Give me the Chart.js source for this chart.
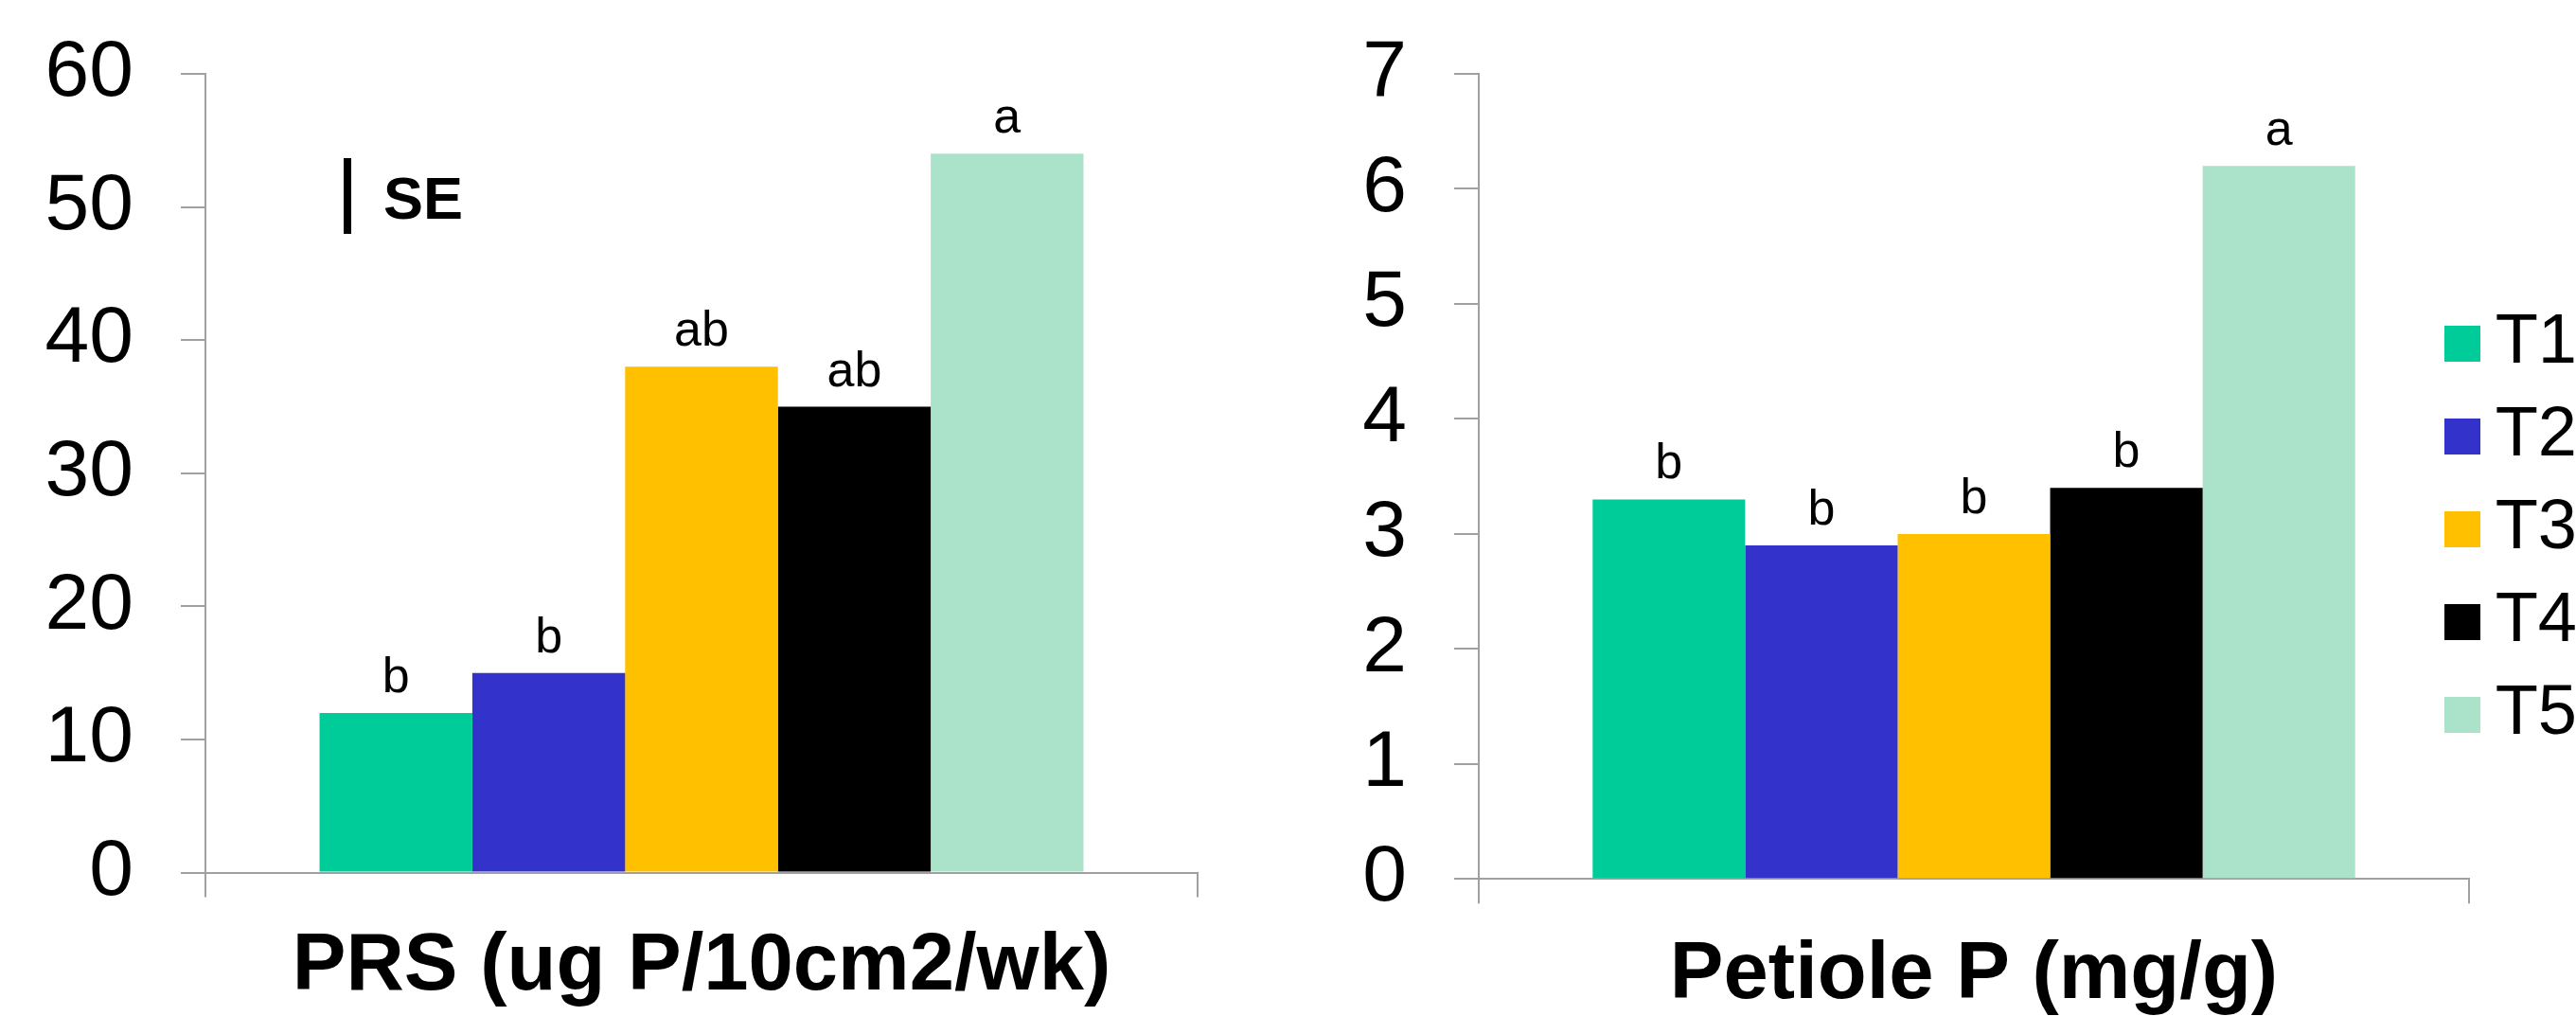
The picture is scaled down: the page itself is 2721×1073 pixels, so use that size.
<!DOCTYPE html>
<html lang="en">
<head>
  <meta charset="UTF-8">
  <title>PRS and Petiole P</title>
  <script src="https://cdn.jsdelivr.net/npm/chart.js"></script>
  <style>
    html, body {
      margin: 0;
      padding: 0;
      width: 2721px;
      height: 1073px;
      overflow: hidden;
      background: #ffffff;
    }
    canvas {
      position: absolute;
      top: 0;
    }
    #prsChart { left: 0; }
    #petioleChart { left: 1330px; }
  </style>
</head>
<body>
  <canvas id="prsChart" width="1330" height="1073"></canvas>
  <canvas id="petioleChart" width="1400" height="1073"></canvas>

  <script>
    // data
    const categories = ['T1', 'T2', 'T3', 'T4', 'T5'];
    const colors = ['#00CC99', '#3333CC', '#FFC000', '#000000', '#ABE2CA'];

    const prsValues = [12, 15, 38, 35, 54];
    const prsLetters = ['b', 'b', 'ab', 'ab', 'a'];
    const prsTicks = [0, 10, 20, 30, 40, 50, 60];

    const petioleValues = [3.3, 2.9, 3.0, 3.4, 6.2];
    const petioleLetters = ['b', 'b', 'b', 'b', 'a'];
    const petioleTicks = [0, 1, 2, 3, 4, 5, 6, 7];

    const FONT = '"Liberation Sans", Arial, sans-serif';
    const AXIS_GREY = '#a0a0a0';

    function makeDatasets(values) {
      return categories.map((c, i) => ({
        label: c,
        data: [values[i]],
        backgroundColor: colors[i],
        borderWidth: 0,
        barPercentage: 1,
        categoryPercentage: 0.77
      }));
    }

    // significance letters over each bar
    function letterPlugin(letters) {
      return {
        id: 'letters',
        afterDatasetsDraw(chart) {
          const ctx = chart.ctx;
          ctx.save();
          ctx.font = '52px ' + FONT;
          ctx.fillStyle = '#000';
          ctx.textAlign = 'center';
          ctx.textBaseline = 'alphabetic';
          chart.data.datasets.forEach((ds, i) => {
            const bar = chart.getDatasetMeta(i).data[0];
            ctx.fillText(letters[i], bar.x, bar.y - 22);
          });
          ctx.restore();
        }
      };
    }

    function makeScales(ticks, yWidth, xHeight, title, titleLineHeight) {
      return {
        x: {
          type: 'category',
          offset: true,
          grid: {
            offset: true,
            drawOnChartArea: false,
            tickLength: 26,
            color: AXIS_GREY,
            lineWidth: 2
          },
          border: { color: AXIS_GREY, width: 2 },
          ticks: { display: false },
          title: {
            display: true,
            text: title,
            color: '#000',
            padding: { top: 0, bottom: 0 },
            font: { family: FONT, size: 85, weight: 'bold', lineHeight: titleLineHeight }
          },
          afterFit: (scale) => { scale.height = xHeight; }
        },
        y: {
          min: ticks[0],
          max: ticks[ticks.length - 1],
          grid: {
            drawOnChartArea: false,
            tickLength: 26,
            color: AXIS_GREY,
            lineWidth: 2
          },
          border: { color: AXIS_GREY, width: 2 },
          ticks: {
            color: '#000',
            padding: 50,
            font: { family: FONT, size: 84 }
          },
          afterBuildTicks: (scale) => {
            scale.ticks = ticks.map(v => ({ value: v }));
          },
          afterFit: (scale) => {
            scale.width = yWidth;
            // let the layout padding alone decide the top of the plot
            scale.paddingTop = 0;
            scale.paddingBottom = 0;
          }
        }
      };
    }

    // "| SE" key in the upper left of the first panel
    const seKey = {
      id: 'seKey',
      afterDraw(chart) {
        const ctx = chart.ctx;
        ctx.save();
        ctx.fillStyle = '#000';
        ctx.fillRect(363, 167, 8, 80);
        ctx.font = 'bold 63px ' + FONT;
        ctx.textBaseline = 'alphabetic';
        ctx.fillText('SE', 405, 231);
        ctx.restore();
      }
    };

    // put the legend where it sits in the figure, partly off the page
    const legendSpot = {
      id: 'legendSpot',
      afterLayout(chart) {
        const lg = chart.legend;
        lg.left = 1228;
        lg.right = 1392;
        lg.top = 302;
        lg.bottom = 950;
      }
    };

    new Chart(document.getElementById('prsChart'), {
      type: 'bar',
      data: { labels: [''], datasets: makeDatasets(prsValues) },
      options: {
        responsive: false,
        animation: false,
        devicePixelRatio: 1,
        layout: { padding: { left: 0, right: 65, top: 78, bottom: 0 } },
        scales: makeScales(prsTicks, 217, 1073 - 921.6, 'PRS (ug P/10cm2/wk)', 1.2),
        plugins: {
          legend: { display: false },
          tooltip: { enabled: false }
        }
      },
      plugins: [letterPlugin(prsLetters), seKey]
    });

    new Chart(document.getElementById('petioleChart'), {
      type: 'bar',
      data: { labels: [''], datasets: makeDatasets(petioleValues) },
      options: {
        responsive: false,
        animation: false,
        devicePixelRatio: 1,
        layout: { padding: { left: 0, right: 121, top: 78, bottom: 0 } },
        scales: makeScales(petioleTicks, 232, 1073 - 928.3, 'Petiole P (mg/g)', 1.0),
        plugins: {
          legend: {
            position: 'right',
            align: 'start',
            maxWidth: 1,
            labels: {
              boxWidth: 38,
              boxHeight: 38,
              padding: 24,
              color: '#000',
              textAlign: 'right',
              font: { family: FONT, size: 74 }
            }
          },
          tooltip: { enabled: false }
        }
      },
      plugins: [letterPlugin(petioleLetters), legendSpot]
    });
  </script>
</body>
</html>
